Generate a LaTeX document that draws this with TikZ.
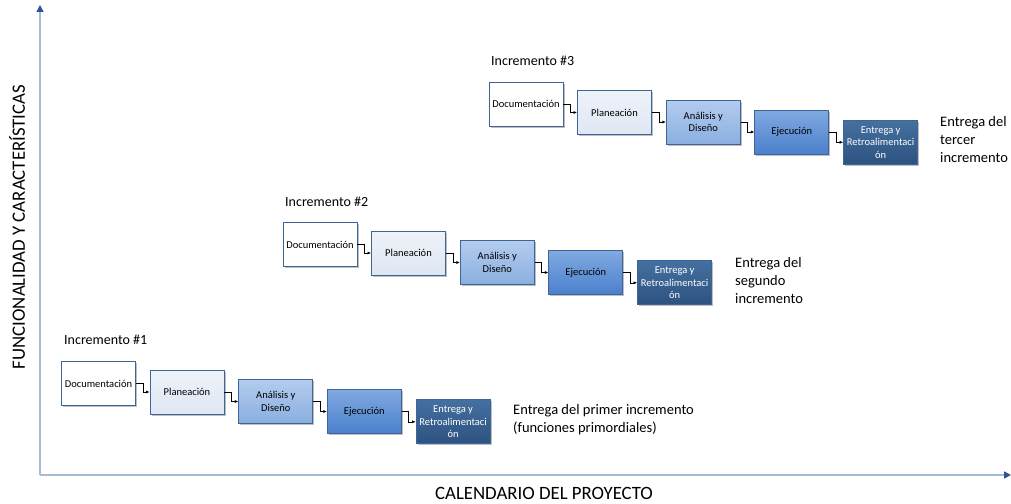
\documentclass[tikz,border=0pt]{standalone}
\usepackage{fontspec}
\setmainfont{Carlito}
\usetikzlibrary{arrows.meta,shadows,calc}

\definecolor{edgeblue}{HTML}{3D6597}
\definecolor{axisline}{HTML}{A7BAD4}
\definecolor{axistip}{HTML}{2F5597}
\definecolor{planA}{HTML}{EEF2F9}
\definecolor{planB}{HTML}{DFE7F3}
\definecolor{analA}{HTML}{B3CCEE}
\definecolor{analB}{HTML}{8AAFE0}
\definecolor{ejecA}{HTML}{80A9E0}
\definecolor{ejecB}{HTML}{4B80CD}
\definecolor{entrA}{HTML}{44709F}
\definecolor{entrB}{HTML}{2D5281}

\tikzset{
  phase/.style={draw=edgeblue, line width=0.9pt, minimum width=74pt, minimum height=44pt,
    inner sep=1pt, align=center, font=\fontsize{10.5}{12.5}\selectfont,
    drop shadow={shadow xshift=1.5pt, shadow yshift=-1.5pt, opacity=0.25, fill=black}},
  docbox/.style={phase, fill=white},
  planbox/.style={phase, top color=planA, bottom color=planB},
  analbox/.style={phase, top color=analA, bottom color=analB},
  ejecbox/.style={phase, top color=ejecA, bottom color=ejecB},
  entrbox/.style={phase, top color=entrA, bottom color=entrB, text=white},
  link/.style={draw=black, line width=0.6pt, -{Latex[length=3.5pt,width=3pt]}},
  title/.style={anchor=west, inner sep=0pt, font=\fontsize{14}{16}\selectfont},
  note/.style={anchor=north west, inner sep=0pt, align=left, font=\fontsize{14.5}{18}\selectfont},
  axis/.style={draw=axisline, line width=1.6pt, -{Triangle[length=7pt,width=7pt,fill=axistip,color=axistip]}},
  axislabel/.style={inner sep=0pt, font=\fontsize{18.8}{20}\selectfont}
}

% one increment: five phases stepping down to the right, chained by elbow links
\newcommand{\incrow}[3]{%
  \node[docbox]  (d#1) at (#2, #3) {Documentación};
  \node[planbox] (p#1) at ($(d#1)+(88.5,8.5)$) {Planeación};
  \node[analbox] (a#1) at ($(p#1)+(88.8,9.5)$) {Análisis y\\Diseño};
  \node[ejecbox] (j#1) at ($(a#1)+(88.5,10)$) {Ejecución};
  \node[entrbox] (r#1) at ($(j#1)+(88.8,10.3)$) {Entrega y\\Retroalimentaci\\ón};
  \draw[link] (d#1.east) -- ++(7,0) |- (p#1.west);
  \draw[link] (p#1.east) -- ++(7,0) |- (a#1.west);
  \draw[link] (a#1.east) -- ++(7,0) |- (j#1.west);
  \draw[link] (j#1.east) -- ++(7,0) |- (r#1.west);
}

\begin{document}
\begin{tikzpicture}[x=1pt,y=-1pt]
  \useasboundingbox (0,0) rectangle (1011,503);

  % axes
  \coordinate (origin) at (40,475);
  \coordinate (ytop) at (40,5);
  \coordinate (xend) at (1011,475);
  \draw[axis] (origin) -- (ytop);
  \draw[axis] (origin) -- (xend);
  \node[axislabel, rotate=90] (ylab) at (17,227) {FUNCIONALIDAD Y CARACTERÍSTICAS};
  \node[axislabel] (xlab) at (544,493) {CALENDARIO DEL PROYECTO};

  % increments
  \incrow{1}{98.5}{383.5}
  \incrow{2}{320}{244.5}
  \incrow{3}{526}{104}

  \node[title] (t1) at (64,340) {Incremento \#1};
  \node[title] (t2) at (285,202) {Incremento \#2};
  \node[title] (t3) at (491,61) {Incremento \#3};

  \node[note] (n1) at (513,404) {Entrega del primer incremento\\(funciones primordiales)};
  \node[note] (n2) at (735,257) {Entrega del\\segundo\\incremento};
  \node[note] (n3) at (940,116) {Entrega del\\tercer\\incremento};
\end{tikzpicture}
\end{document}
